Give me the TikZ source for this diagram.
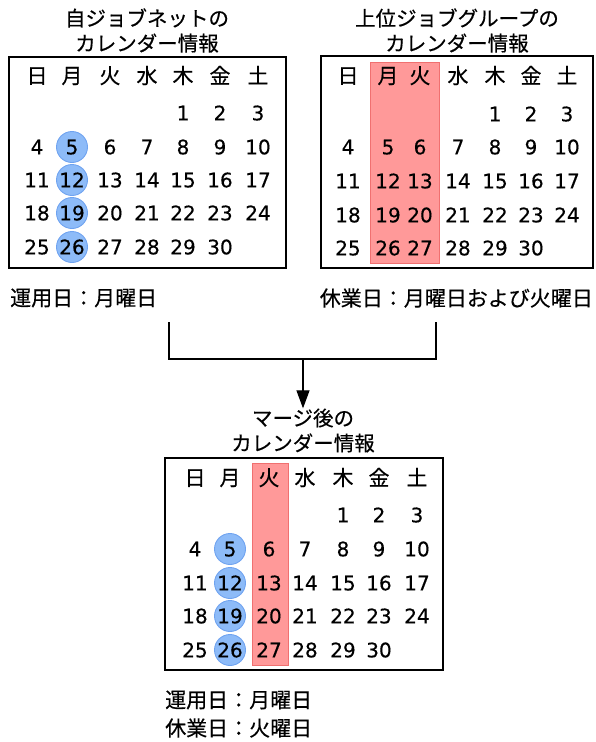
\documentclass[tikz,border=0pt]{standalone}
\usepackage{fontspec}
\setmainfont{Noto Sans CJK JP}[FakeBold=0.4]
\newfontfamily\digitfont{DejaVu Sans}[FakeBold=0.4]
\usetikzlibrary{arrows.meta}
\definecolor{bluefill}{HTML}{8DBBF8}
\definecolor{blueline}{HTML}{6FA3F0}
\definecolor{redfill}{HTML}{FF9999}
\definecolor{redline}{HTML}{F07070}
\newcommand\drawcal[3]{%
  \foreach \w [count=\i from 0] in {日,月,火,水,木,金,土} {
    \pgfmathsetmacro\xx{#2[\i]}
    \pgfmathsetmacro\yy{#3[0]}
    \node[hcell] (#1-h\i) at (\xx,\yy) {\w};
  }
  \foreach \d in {1,...,30} {
    \pgfmathtruncatemacro\cc{mod(\d+3,7)}
    \pgfmathtruncatemacro\rr{int((\d+3)/7)+1}
    \pgfmathsetmacro\xx{#2[\cc]}
    \pgfmathsetmacro\yy{#3[\rr]}
    \node[cell] (#1-\d) at (\xx,\yy) {\d};
  }
}
\newcommand\drawmon[3]{%
  \foreach \d [count=\k from 2] in {5,12,19,26} {
    \pgfmathsetmacro\xx{#2[1]}
    \pgfmathsetmacro\yy{#3[\k]}
    \node[mon] (#1-c\d) at (\xx,\yy) {};
  }
}
\begin{document}
\begin{tikzpicture}[x=1pt,y=-1pt,
  cell/.style={font=\digitfont\fontsize{20}{20}\selectfont, inner sep=0pt, text height=14.6pt, text depth=0pt},
  hcell/.style={font=\fontsize{21}{21}\selectfont, inner sep=0pt, text height=15pt, text depth=0pt},
  calbox/.style={draw=black, line width=1.2pt},
  mon/.style={circle, fill=bluefill, draw=blueline, line width=0.9pt, minimum size=31pt, inner sep=0pt},
  holiday/.style={fill=redfill, draw=redline, line width=0.9pt},
  title/.style={font=\fontsize{20.5}{25}\selectfont, align=center, inner sep=0pt},
  lbl/.style={font=\fontsize{21}{21}\selectfont, inner sep=0pt},
  conn/.style={draw=black, line width=1.2pt}]
\useasboundingbox (0,0) rectangle (595,742);
\def\xsL{{37,72,110,147,183,220,258}}
\def\ysL{{76,113,147,180,213,247}}
\def\xsR{{348,388,420,458,495,531,567}}
\def\ysR{{76,114,147,181,215,248}}
\def\xsM{{195,230,269,305,343,379,417}}
\def\ysM{{478,515,549,583,616,650}}
% titles
\node[title] (tL) at (147,30.5) {自ジョブネットの\\カレンダー情報};
\node[title] (tR) at (457,30.5) {上位ジョブグループの\\カレンダー情報};
% left calendar
\draw[calbox] (9,57) rectangle (286,268);
\drawmon{L}{\xsL}{\ysL}
\drawcal{L}{\xsL}{\ysL}
% right calendar
\draw[calbox] (321,56) rectangle (593,268);
\draw[holiday] (370,62) rectangle (439,263);
\drawcal{R}{\xsR}{\ysR}
% labels
\node[lbl, anchor=west] (opL) at (10,298) {運用日：月曜日};
\node[lbl, anchor=east] (hoR) at (593,298) {休業日：月曜日および火曜日};
% connector
\coordinate (jl) at (169,322);
\coordinate (jr) at (436,322);
\coordinate (jm) at (303,359);
\node[title] (tM) at (303,430.5) {マージ後の\\カレンダー情報};
\draw[conn] (jl) -- (jl |- jm) -- (jr |- jm) -- (jr);
\draw[conn, -{Triangle[length=18pt,width=13pt]}] (jm) -- (tM.north);
% merged calendar
\draw[calbox] (165,458) rectangle (443,670);
\draw[holiday] (252,463) rectangle (288,665);
\drawmon{M}{\xsM}{\ysM}
\drawcal{M}{\xsM}{\ysM}
% bottom labels
\node[lbl, anchor=west] (opM) at (165,700) {運用日：月曜日};
\node[lbl, anchor=west] (hoM) at (165,728) {休業日：火曜日};
\end{tikzpicture}
\end{document}
